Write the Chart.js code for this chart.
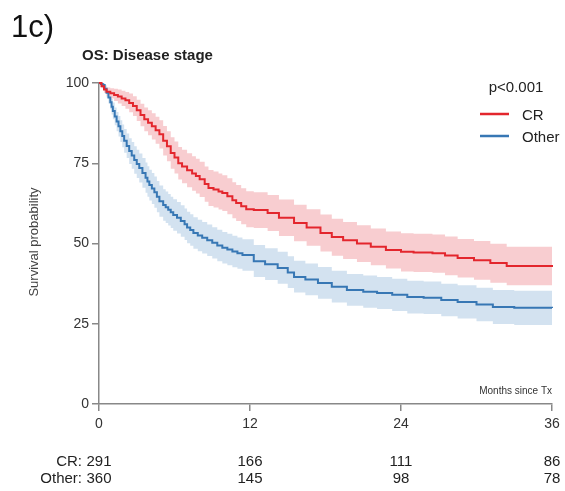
<!DOCTYPE html>
<html>
<head>
<meta charset="utf-8">
<script src="https://cdn.jsdelivr.net/npm/chart.js@4"></script>
<style>
  html, body { margin: 0; padding: 0; background: #fff; }
  #km { display: block; }
</style>
</head>
<body>
<canvas id="km" width="565" height="491"></canvas>
<script>
// Kaplan-Meier: CR
const crMonths = [0, 0.2, 0.4, 0.6, 0.9, 1.2, 1.5, 1.8, 2.1, 2.4, 2.7, 3.0, 3.3, 3.6, 3.9, 4.2, 4.5, 4.8, 5.1, 5.4, 5.7, 6.0, 6.3, 6.6, 7.0, 7.4, 7.7, 8.0, 8.4, 8.7, 9.1, 9.5, 9.8, 10.2, 10.6, 10.9, 11.3, 11.7,
    12.3, 13.4, 14.3, 15.5, 16.5, 17.6, 18.5, 19.4, 20.5, 21.6, 22.8, 24.0, 25.0, 26.5, 27.5, 28.5, 29.8, 31.1, 32.4, 36];
const crSurv = [100, 99, 98, 97.3, 96.8, 96.3, 95.8, 95.2, 94.6, 93.8, 92.8, 91.5, 90.0, 88.7, 87.6, 86.5, 85.3, 84, 82, 80.3, 78.2, 76.8, 75, 74, 72.8, 71.8, 71.0, 70, 68.5, 67.3, 66.8, 66.2, 65.7, 64.7, 63.5, 62.6, 61.6, 60.7,
    60.4, 59.5, 58, 56.4, 55, 53.3, 52, 51, 50, 49, 48, 47.4, 47.2, 47, 46.3, 45.5, 44.8, 43.9, 43, 42.7];
const crUpper = [100, 99.6, 99.0, 98.6, 98.4, 98.2, 98.0, 97.6, 97.2, 96.7, 95.9, 94.8, 93.5, 92.4, 91.5, 90.6, 89.5, 88.4, 86.6, 85.0, 83.1, 81.8, 80.1, 79.2, 78.1, 77.2, 76.4, 75.5, 74.0, 72.9, 72.4, 71.8, 71.3, 70.3, 69.1, 68.2, 67.2, 66.3,
    66.0, 65.1, 63.7, 62.1, 60.7, 59.0, 57.7, 56.7, 55.7, 54.7, 53.7, 53.2, 53.0, 52.8, 52.2, 51.4, 50.8, 49.9, 49.0, 48.7];
const crLower = [100, 98.4, 97.0, 96.0, 95.2, 94.4, 93.6, 92.8, 92.0, 90.9, 89.7, 88.2, 86.5, 85.0, 83.7, 82.4, 81.1, 79.6, 77.4, 75.6, 73.3, 71.8, 69.9, 68.8, 67.5, 66.4, 65.6, 64.5, 63.0, 61.7, 61.2, 60.6, 60.1, 59.1, 57.9, 57.0, 56.0, 55.1,
    54.8, 53.9, 52.3, 50.7, 49.3, 47.5, 46.2, 45.2, 44.2, 43.2, 42.2, 41.3, 41.1, 40.9, 40.1, 39.4, 38.7, 37.8, 37.0, 36.7];

// Kaplan-Meier: Other
const otherMonths = [0, 0.15, 0.3, 0.45, 0.6, 0.75, 0.9, 1.0, 1.1, 1.25, 1.4, 1.55, 1.7, 1.85, 2.0, 2.2, 2.4, 2.6, 2.8, 3.0, 3.2, 3.45, 3.7, 3.85, 4.0, 4.2, 4.4, 4.6, 4.8, 5.1, 5.3, 5.5, 5.7, 5.9, 6.2, 6.5, 6.8, 7.0, 7.25, 7.5, 7.85, 8.2, 8.6, 9.0, 9.4, 9.8, 10.2, 10.6, 11.0, 11.4,
    12.3, 13.2, 14.2, 15.0, 15.5, 16.4, 17.4, 18.5, 19.7, 21.0, 22.1, 23.3, 24.5, 25.8, 27.2, 28.5, 30.0, 31.3, 33.0, 36];
const otherSurv = [100, 99.7, 99.4, 98.2, 97, 95.5, 94, 92.6, 91.3, 89.6, 88, 86.5, 85, 83.5, 82, 80.4, 78.8, 77.4, 76, 74.8, 73.5, 72, 70.5, 69.3, 68.2, 67.1, 66, 64.6, 63.2, 62, 61.3, 60.5, 59.7, 58.9, 58, 57, 56, 55, 54.2, 53.3, 52.5, 51.8, 51.0, 50.2, 49.4, 48.7, 48.1, 47.5, 47.0, 46.4,
    44.5, 43.5, 42.4, 41, 39.6, 38.8, 37.7, 36.5, 35.5, 35, 34.6, 34, 33.3, 33.1, 32.4, 31.8, 31.0, 30.2, 30.0, 29.9];
const otherUpper = [100, 100, 100, 99.4, 98.5, 97.4, 96.2, 95.0, 93.9, 92.4, 91.0, 89.7, 88.4, 87.1, 85.7, 84.3, 82.8, 81.6, 80.3, 79.2, 78.0, 76.6, 75.2, 74.1, 73.0, 72.0, 70.9, 69.5, 68.1, 66.9, 66.2, 65.4, 64.6, 63.8, 62.9, 61.9, 60.9, 59.9, 59.1, 58.2, 57.4, 56.7, 55.9, 55.1, 54.3, 53.6, 53.0, 52.4, 51.9, 51.3,
    49.5, 48.5, 47.4, 46.0, 44.6, 43.8, 42.7, 41.5, 40.5, 40.0, 39.6, 39.0, 38.4, 38.2, 37.5, 37.0, 36.2, 35.5, 35.3, 35.4];
const otherLower = [100, 99.3, 98.6, 97.0, 95.5, 93.6, 91.8, 90.2, 88.7, 86.8, 85.0, 83.3, 81.6, 80.0, 78.3, 76.6, 74.8, 73.3, 71.7, 70.4, 69.0, 67.4, 65.8, 64.6, 63.4, 62.3, 61.1, 59.7, 58.3, 57.1, 56.4, 55.6, 54.8, 54.0, 53.1, 52.1, 51.1, 50.1, 49.3, 48.4, 47.6, 46.9, 46.1, 45.3, 44.5, 43.8, 43.2, 42.6, 42.1, 41.5,
    39.6, 38.6, 37.5, 36.1, 34.7, 33.9, 32.8, 31.6, 30.6, 30.0, 29.6, 29.0, 28.2, 28.0, 27.3, 26.6, 25.8, 24.9, 24.6, 24.4];

// Number at risk
const riskTimes = [0, 12, 24, 36];
const riskCR = [291, 166, 111, 86];
const riskOther = [360, 145, 98, 78];

const pValue = 'p<0.001';

const FONT = '"Liberation Sans", Arial, sans-serif';
const redLine = '#e3262d';
const redBand = '#f8cdd0';
const blueLine = '#3777b4';
const blueBand = '#d3e2f0';

const pts = (xs, ys) => xs.map((x, i) => ({ x: x, y: ys[i] }));

// Текст вокруг графика
const extras = {
    id: 'extras',
    afterDraw(chart) {
        const ctx = chart.ctx;
        const xs = chart.scales.x;
        const area = chart.chartArea;
        ctx.save();

        ctx.fillStyle = '#111';
        ctx.textAlign = 'left';
        ctx.textBaseline = 'alphabetic';
        ctx.font = '31px ' + FONT;
        ctx.fillText('1c)', 11, 37);

        ctx.font = 'bold 15px ' + FONT;
        ctx.fillStyle = '#222';
        ctx.fillText('OS: Disease stage', 82, 60);

        // y title
        ctx.save();
        ctx.translate(34, 242);
        ctx.rotate(-Math.PI / 2);
        ctx.textAlign = 'center';
        ctx.textBaseline = 'middle';
        ctx.font = '13px ' + FONT;
        ctx.fillStyle = '#444';
        ctx.fillText('Survival probability', 0, 0);
        ctx.restore();

        // legend
        ctx.textBaseline = 'middle';
        ctx.textAlign = 'center';
        ctx.font = '15px ' + FONT;
        ctx.fillStyle = '#222';
        ctx.fillText(pValue, 516, 88);
        const items = [['CR', redLine, 114], ['Other', blueLine, 136]];
        items.forEach(([name, col, y]) => {
            ctx.strokeStyle = col;
            ctx.lineWidth = 2.5;
            ctx.beginPath();
            ctx.moveTo(480, y);
            ctx.lineTo(509, y);
            ctx.stroke();
            ctx.textAlign = 'left';
            ctx.fillText(name, 522, y + 2);
        });

        ctx.textAlign = 'right';
        ctx.font = '10px ' + FONT;
        ctx.fillStyle = '#333';
        ctx.fillText('Months since Tx', area.right, 391);

        // risk table
        ctx.font = '15px ' + FONT;
        ctx.fillStyle = '#222';
        const x0 = xs.getPixelForValue(0);
        ctx.textAlign = 'right';
        ctx.fillText('CR:', x0 - 17, 462);
        ctx.fillText('Other:', x0 - 17, 479);
        ctx.textAlign = 'center';
        riskTimes.forEach((t, i) => {
            const px = xs.getPixelForValue(t);
            ctx.fillText(String(riskCR[i]), px, 462);
            ctx.fillText(String(riskOther[i]), px, 479);
        });
        ctx.restore();
    }
};

const bandSet = (data, color, fill) => ({
    data: data,
    borderWidth: 0,
    pointRadius: 0,
    stepped: true,
    backgroundColor: color,
    fill: fill,
    clip: false
});

new Chart(document.getElementById('km'), {
    type: 'line',
    data: {
        datasets: [
            { label: 'CR', data: pts(crMonths, crSurv), borderColor: redLine, borderWidth: 2, pointRadius: 0, stepped: true, fill: false, clip: false },
            { label: 'Other', data: pts(otherMonths, otherSurv), borderColor: blueLine, borderWidth: 2, pointRadius: 0, stepped: true, fill: false, clip: false },
            bandSet(pts(crMonths, crUpper), redBand, '+1'),
            bandSet(pts(crMonths, crLower), redBand, false),
            bandSet(pts(otherMonths, otherUpper), blueBand, '+1'),
            bandSet(pts(otherMonths, otherLower), blueBand, false)
        ]
    },
    options: {
        responsive: false,
        animation: false,
        layout: { padding: { top: 83, right: 13, left: 0, bottom: 0 } },
        plugins: {
            legend: { display: false },
            title: { display: false },
            tooltip: { enabled: false }
        },
        scales: {
            x: {
                type: 'linear',
                min: 0,
                max: 36,
                afterFit: (s) => { s.height = 87; },
                ticks: { stepSize: 12, color: '#333', padding: 5, font: { family: FONT, size: 14 } },
                grid: { drawOnChartArea: false, drawTicks: true, tickLength: 7, color: '#888', lineWidth: 1.5 },
                border: { color: '#888', width: 1.5 }
            },
            y: {
                min: 0,
                max: 100,
                afterFit: (s) => { s.width = 99; },
                ticks: { stepSize: 25, color: '#333', padding: 3, font: { family: FONT, size: 14 } },
                grid: { drawOnChartArea: false, drawTicks: true, tickLength: 7, color: '#888', lineWidth: 1.5 },
                border: { color: '#888', width: 1.5 }
            }
        }
    },
    plugins: [extras]
});
</script>
</body>
</html>
